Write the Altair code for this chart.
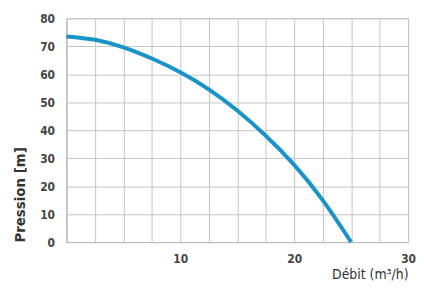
import altair as alt
import pandas as pd

debit = [0, 2.5, 5, 7.5, 10, 12.5, 15, 17.5, 20, 22.5, 25]
pression = [73.5, 72.3, 69.6, 65.6, 60.7, 54.6, 47, 38, 27.6, 15, 0]
x_grid = [0, 2.5, 5, 7.5, 10, 12.5, 15, 17.5, 20, 22.5, 25, 27.5, 30]
y_ticks = [0, 10, 20, 30, 40, 50, 60, 70, 80]

df = pd.DataFrame({"debit": debit, "pression": pression})

FONT = "DejaVu Sans Condensed"

chart = alt.Chart(df).mark_line(
    color="#1a93c9", strokeWidth=4, interpolate="natural"
).encode(
    x=alt.X("debit:Q",
            scale=alt.Scale(domain=[0, 30], nice=False, zero=True),
            axis=alt.Axis(values=x_grid, title="Débit (m³/h)",
                          labelExpr="(datum.value % 10 == 0 && datum.value > 0) ? datum.label : ''",
                          titleAnchor="end", titleAlign="right", titleX=345, titleY=26,
                          titleFontSize=14, titleFontWeight="normal", titleColor="#333",
                          labelFontSize=12, labelFontWeight="bold", labelColor="#444",
                          labelPadding=12, ticks=False, domainColor="#bbb",
                          gridColor="#c4c4c4", labelFlush=False)),
    y=alt.Y("pression:Q",
            scale=alt.Scale(domain=[0, 80], nice=False),
            axis=alt.Axis(values=y_ticks, title="Pression [m]",
                          titleAnchor="start", titleFontSize=15, titleFontWeight="bold",
                          titleColor="#333", titlePadding=12,
                          labelFontSize=12, labelFontWeight="bold", labelColor="#444",
                          labelPadding=12, ticks=False, domainColor="#bbb",
                          gridColor="#c4c4c4")),
).properties(
    width=345, height=226,
    autosize=alt.AutoSizeParams(type="none"),
    padding={"left": 59, "top": 9, "right": 8, "bottom": 43},
).configure_view(
    stroke="#c4c4c4"
).configure_axis(
    labelFont=FONT, titleFont=FONT
)

chart.save("out.html", embed_options={"renderer": "svg", "actions": False})
